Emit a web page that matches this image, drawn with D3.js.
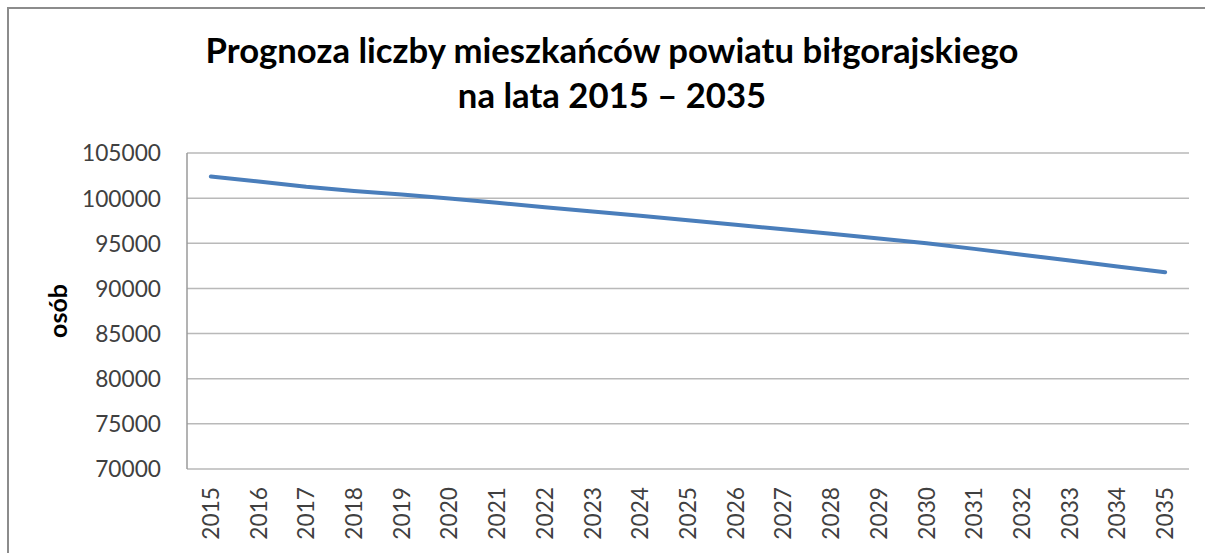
<!DOCTYPE html>
<html>
<head>
<meta charset="utf-8">
<script src="https://cdn.jsdelivr.net/npm/d3@7"></script>
<style>
  body { margin: 0; background: #fff; }
  svg text { font-family: Lato, "Open Sans", sans-serif; }
</style>
</head>
<body>
<div id="chart"></div>
<script>
// Prognoza liczby mieszkańców powiatu biłgorajskiego 2015-2035
var years = ["2015", "2016", "2017", "2018", "2019", "2020", "2021", "2022", "2023", "2024",
             "2025", "2026", "2027", "2028", "2029", "2030", "2031", "2032", "2033", "2034", "2035"];
var population = [102400, 101850, 101250, 100800, 100400, 99950, 99480, 99000, 98520, 98050,
                  97550, 97050, 96550, 96050, 95520, 95000, 94380, 93740, 93090, 92440, 91790];
var yTicks = [70000, 75000, 80000, 85000, 90000, 95000, 100000, 105000];
var titleLines = ["Prognoza liczby mieszkańców powiatu biłgorajskiego", "na lata 2015 \u2013 2035"];
var yAxisTitle = "osób";

var W = 1205, H = 553;
var margin = {top: 153, right: 16, bottom: 84, left: 187};

var svg = d3.select("#chart").append("svg")
    .attr("width", W)
    .attr("height", H);

// outer chart frame (cut by the picture edge on the right and bottom)
svg.append("rect")
    .attr("x", 8).attr("y", 8)
    .attr("width", W + 20).attr("height", H + 20)
    .attr("fill", "#fff")
    .attr("stroke", "#8c8c8c")
    .attr("stroke-width", 2);

var x = d3.scaleBand()
    .domain(years)
    .range([margin.left, W - margin.right]);

var y = d3.scaleLinear()
    .domain([70000, 105000])
    .range([H - margin.bottom, margin.top]);

// scale a text's font-size so it fills a given width
function fitWidth(sel, target) {
    var node = sel.node();
    var size = parseFloat(sel.attr("font-size"));
    var len = node.getComputedTextLength();
    sel.attr("font-size", size * target / len);
    return size * target / len;
}

// title
var t1 = svg.append("text")
    .attr("x", 612).attr("y", 63)
    .attr("text-anchor", "middle")
    .attr("font-size", 30)
    .attr("font-weight", "bold")
    .attr("fill", "#000")
    .text(titleLines[0]);
var titleSize = fitWidth(t1, 813);
svg.append("text")
    .attr("x", 612).attr("y", 108)
    .attr("text-anchor", "middle")
    .attr("font-size", titleSize)
    .attr("font-weight", "bold")
    .attr("fill", "#000")
    .text(titleLines[1]);

// gridlines
svg.append("g")
    .selectAll("line")
    .data(yTicks)
    .join("line")
    .attr("x1", margin.left)
    .attr("x2", W - margin.right)
    .attr("y1", function (d) { return y(d); })
    .attr("y2", function (d) { return y(d); })
    .attr("stroke", "#b9b9b9")
    .attr("stroke-width", 1.5);

// left axis line
svg.append("line")
    .attr("x1", margin.left).attr("x2", margin.left)
    .attr("y1", margin.top).attr("y2", H - margin.bottom)
    .attr("stroke", "#9a9a9a")
    .attr("stroke-width", 1.5);

// y axis
var yAxis = svg.append("g")
    .attr("transform", "translate(" + (margin.left - 26) + ",0)")
    .call(d3.axisLeft(y).tickValues(yTicks).tickSize(0).tickPadding(0).tickFormat(d3.format("d")));
yAxis.select(".domain").remove();
yAxis.selectAll("text")
    .attr("font-size", 22)
    .attr("fill", "#404040")
    .attr("dy", "0.35em");
var tickSize = fitWidth(yAxis.selectAll("text").filter(function (d) { return d === 105000; }), 79);
yAxis.selectAll("text").attr("font-size", tickSize).style("font-family", "Lato, sans-serif");

// x axis
var xAxis = svg.append("g")
    .attr("transform", "translate(0," + (H - margin.bottom) + ")")
    .call(d3.axisBottom(x).tickSize(0).tickPadding(0));
xAxis.select(".domain").remove();
xAxis.selectAll("text")
    .attr("font-size", tickSize)
    .attr("fill", "#404040")
    .attr("text-anchor", "end")
    .attr("transform", "rotate(-90)")
    .attr("x", -18)
    .attr("y", 0)
    .attr("dy", "0.35em");

// y axis title
svg.append("text")
    .attr("transform", "translate(58," + ((margin.top + H - margin.bottom) / 2) + ") rotate(-90)")
    .attr("text-anchor", "middle")
    .attr("dy", "0.35em")
    .attr("font-size", 25)
    .attr("font-weight", "bold")
    .attr("fill", "#000")
    .text(yAxisTitle);

// data line
var line = d3.line()
    .x(function (d, i) { return x(years[i]) + x.bandwidth() / 2; })
    .y(function (d) { return y(d); });

svg.append("path")
    .datum(population)
    .attr("d", line)
    .attr("fill", "none")
    .attr("stroke", "#4a7ebb")
    .attr("stroke-width", 4)
    .attr("stroke-linecap", "round")
    .attr("stroke-linejoin", "round");
</script>
</body>
</html>
